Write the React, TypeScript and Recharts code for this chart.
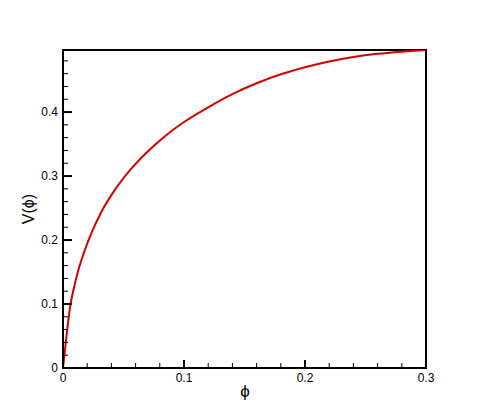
import React from 'react';
import { LineChart, Line, XAxis, YAxis, ReferenceArea } from 'recharts';

// curve
const phi = [0, 0.002, 0.004, 0.006, 0.009, 0.013, 0.018, 0.024, 0.032, 0.042, 0.055, 0.07, 0.085, 0.1, 0.12, 0.14, 0.16, 0.18, 0.2, 0.22, 0.24, 0.26, 0.28, 0.3];
const vphi = [0, 0.035, 0.068, 0.097, 0.125, 0.155, 0.184, 0.213, 0.245, 0.276, 0.3085, 0.3385, 0.3635, 0.3845, 0.4075, 0.428, 0.445, 0.459, 0.47, 0.479, 0.486, 0.491, 0.4944, 0.497];

const xTicks = [0, 0.02, 0.04, 0.06, 0.08, 0.1, 0.12, 0.14, 0.16, 0.18, 0.2, 0.22, 0.24, 0.26, 0.28, 0.3];
const xMajor = [0, 0.1, 0.2, 0.3];
const yTicks = [0, 0.02, 0.04, 0.06, 0.08, 0.1, 0.12, 0.14, 0.16, 0.18, 0.2, 0.22, 0.24, 0.26, 0.28, 0.3, 0.32, 0.34, 0.36, 0.38, 0.4, 0.42, 0.44, 0.46, 0.48];
const yMajor = [0, 0.1, 0.2, 0.3, 0.4];

const data = phi.map((p, i) => ({ phi: p, v: vphi[i] }));

const FONT = 'Liberation Sans, Arial, sans-serif';

const XTick = (props: any) => {
  const { x, y, payload } = props;
  const major = xMajor.includes(payload.value);
  return (
    <g>
      <line x1={x} x2={x} y1={y} y2={y - (major ? 8 : 5)} stroke="#000" strokeWidth={major ? 2 : 1} />
      {major && (
        <text x={x} y={y + 5} dy="0.71em" textAnchor="middle" fontSize={12} fontFamily={FONT} fill="#000">
          {String(payload.value)}
        </text>
      )}
    </g>
  );
};

const YTick = (props: any) => {
  const { x, y, payload } = props;
  const major = yMajor.includes(payload.value);
  return (
    <g>
      <line x1={x} x2={x + (major ? 9 : 5)} y1={y} y2={y} stroke="#000" strokeWidth={major ? 2 : 1} />
      {major && (
        <text x={x - 5} y={y} dy="0.35em" textAnchor="end" fontSize={12} fontFamily={FONT} fill="#000">
          {String(payload.value)}
        </text>
      )}
    </g>
  );
};

const App: React.FC = () => {
  return (
    <div style={{ position: 'fixed', left: 0, top: 0, width: 485, height: 415, background: '#fff' }}>
      <LineChart width={485} height={415} data={data} margin={{ top: 50, right: 59, bottom: 17, left: 23 }}>
        <XAxis
          dataKey="phi"
          type="number"
          domain={[0, 0.3]}
          ticks={xTicks}
          interval={0}
          height={30}
          tickSize={0}
          tickMargin={0}
          tickLine={false}
          tick={(p: any) => <XTick {...p} />}
          axisLine={{ stroke: '#000', strokeWidth: 2 }}
        />
        <YAxis
          type="number"
          domain={[0, 0.497]}
          allowDataOverflow
          ticks={yTicks}
          interval={0}
          width={40}
          tickSize={0}
          tickMargin={0}
          tickLine={false}
          tick={(p: any) => <YTick {...p} />}
          axisLine={{ stroke: '#000', strokeWidth: 2 }}
        />
        <ReferenceArea x1={0} x2={0.3} y1={0} y2={0.497} fill="none" stroke="#000" strokeWidth={2} fillOpacity={0} />
        <Line
          dataKey="v"
          type="monotone"
          stroke="#d40000"
          strokeWidth={2}
          dot={false}
          isAnimationActive={false}
        />
        <text x={245} y={397} textAnchor="middle" fontSize={17} fontFamily={FONT} fill="#000">ϕ</text>
        <text
          x={34}
          y={209}
          textAnchor="middle"
          fontSize={16}
          fontFamily={FONT}
          fill="#000"
          transform="rotate(-90 34 209)"
        >
          V(ϕ)
        </text>
      </LineChart>
    </div>
  );
};

export default App;
